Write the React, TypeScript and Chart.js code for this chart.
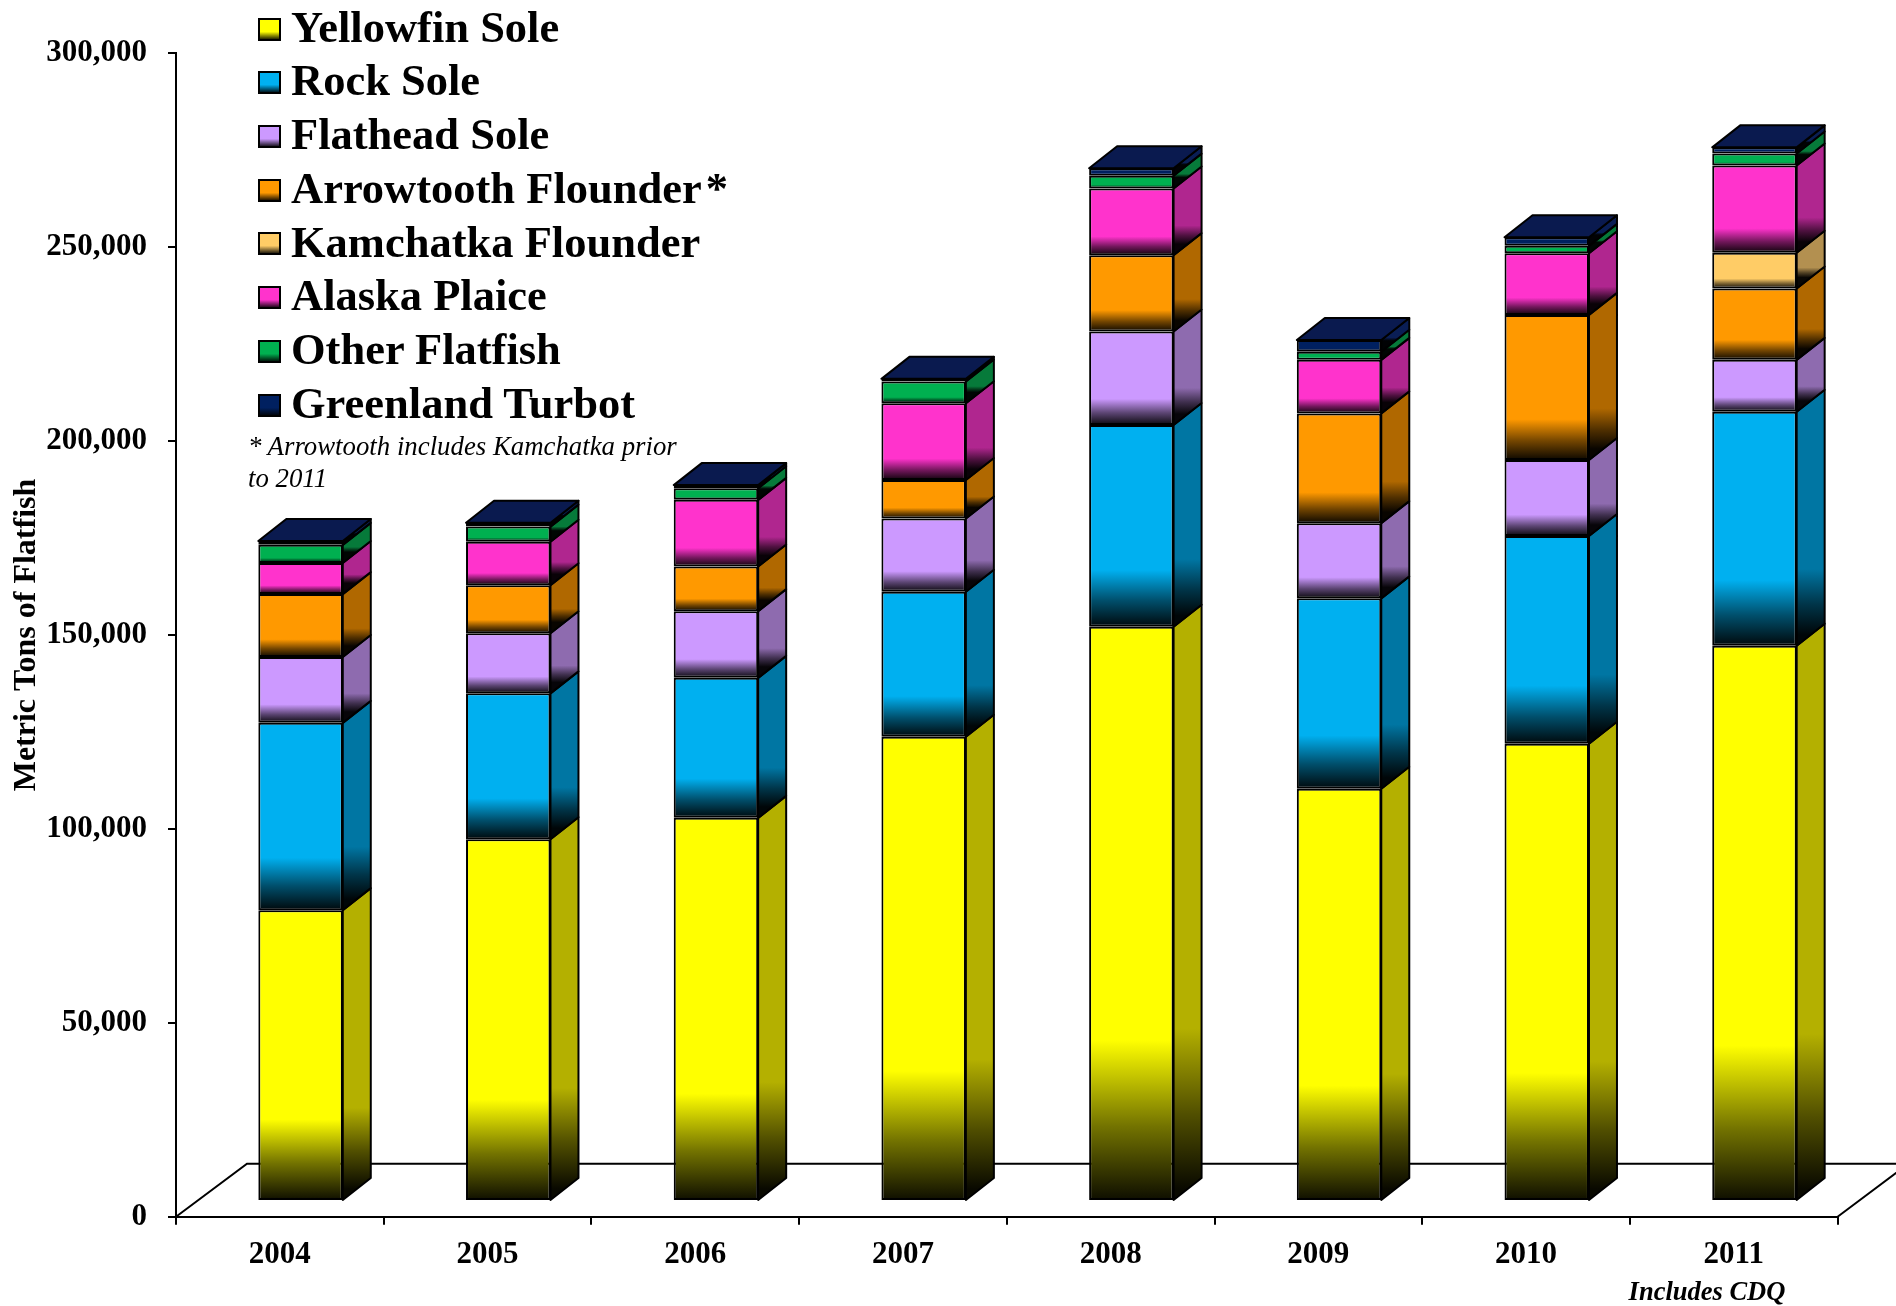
import React, { useEffect, useRef } from 'react';
import { Chart, registerables } from 'chart.js';

Chart.register(...registerables);

// ---------------- data (metric tons) ----------------
const years = ['2004', '2005', '2006', '2007', '2008', '2009', '2010', '2011'];
const yellowfinSole = [75000, 93300, 98800, 119700, 148100, 106300, 117900, 143200];
const rockSole = [48300, 37600, 36100, 37400, 52000, 49100, 53600, 60300];
const flatheadSole = [17000, 15500, 17200, 18900, 24100, 19400, 19600, 13400];
const arrowtoothFlounder = [16200, 12400, 11500, 9900, 19700, 28300, 37400, 18400];
const kamchatkaFlounder = [null, null, null, null, null, null, null, 9200];
const alaskaPlaice = [8000, 11200, 17200, 19800, 17200, 13800, 15900, 22500];
const otherFlatfish = [4700, 3900, 3000, 5600, 3300, 2100, 1900, 3100];
const greenlandTurbot = [1000, 1000, 800, 700, 1900, 3000, 2200, 1600];
const yTickValues = [0, 50000, 100000, 150000, 200000, 250000, 300000];

const seriesNames = [
  'Yellowfin Sole',
  'Rock Sole',
  'Flathead Sole',
  'Arrowtooth Flounder',
  'Kamchatka Flounder',
  'Alaska Plaice',
  'Other Flatfish',
  'Greenland Turbot',
];
const seriesData: (number | null)[][] = [
  yellowfinSole,
  rockSole,
  flatheadSole,
  arrowtoothFlounder,
  kamchatkaFlounder,
  alaskaPlaice,
  otherFlatfish,
  greenlandTurbot,
];

// ---------------- styles ----------------
const frontColors = ['#FFFF00', '#00B0F0', '#CC99FF', '#FF9900', '#FFCC66', '#FF33CC', '#00B050', '#002060'];
const sideColors = ['#B4B000', '#0076A3', '#8E6BAF', '#B06800', '#B39050', '#B0268F', '#067A3A', '#0A1E55'];
const topColor = '#0A1A4F';
const FONT = "'Liberation Serif', 'Times New Roman', serif";
const BAR_SHIFT = { x: 20.7, y: -15.7 };
const BAR_DEPTH = { x: 28, y: -22 };
const FLOOR_DEPTH = { x: 71, y: -53 };

function rgbOf(hex: string) {
  const n = parseInt(hex.slice(1), 16);
  return [(n >> 16) & 255, (n >> 8) & 255, n & 255];
}
function scaled(hex: string, f: number) {
  const [r, g, b] = rgbOf(hex);
  return `rgb(${Math.round(r * f)},${Math.round(g * f)},${Math.round(b * f)})`;
}
function addShade(g: CanvasGradient, hex: string) {
  g.addColorStop(0, hex);
  g.addColorStop(0.72, hex);
  g.addColorStop(0.87, scaled(hex, 0.45));
  g.addColorStop(1, scaled(hex, 0.05));
}
function stackRange(i: number, j: number) {
  let base = 0;
  for (let k = 0; k < i; k++) base += seriesData[k][j] ?? 0;
  return [base, base + (seriesData[i][j] ?? 0)];
}

function frontFill(c: any, i: number) {
  const color = frontColors[i];
  if (c.type !== 'data') return color;
  const chart = c.chart;
  const ys = chart.scales && chart.scales.y;
  if (!ys || !chart.chartArea) return color;
  const [b, t] = stackRange(i, c.dataIndex);
  const y0 = ys.getPixelForValue(t);
  const y1 = ys.getPixelForValue(b);
  if (!isFinite(y0) || !isFinite(y1) || y1 - y0 < 0.5) return color;
  const g = chart.ctx.createLinearGradient(0, y0, 0, y1);
  addShade(g, color);
  return g;
}

const threeD = {
  id: 'threeD',
  beforeDatasetsDraw(chart: any) {
    const { ctx, chartArea, scales } = chart;
    const y0 = scales.y.getPixelForValue(0);
    ctx.save();
    ctx.strokeStyle = '#000';
    ctx.lineWidth = 2;
    ctx.beginPath();
    ctx.moveTo(chartArea.left, y0);
    ctx.lineTo(chartArea.left + FLOOR_DEPTH.x, y0 + FLOOR_DEPTH.y);
    ctx.lineTo(chartArea.right + FLOOR_DEPTH.x, y0 + FLOOR_DEPTH.y);
    ctx.lineTo(chartArea.right, y0);
    ctx.stroke();
    ctx.restore();
    ctx.save();
    ctx.translate(BAR_SHIFT.x, BAR_SHIFT.y);
  },
  afterDatasetsDraw(chart: any) {
    const { ctx } = chart;
    const n = years.length;
    ctx.lineWidth = 2;
    ctx.lineJoin = 'round';
    ctx.strokeStyle = '#000';
    for (let j = 0; j < n; j++) {
      let topIdx = -1;
      for (let i = 0; i < seriesData.length; i++) {
        if (seriesData[i][j] == null) continue;
        const el = chart.getDatasetMeta(i).data[j];
        if (!el) continue;
        const { x, y, base, width } = el.getProps(['x', 'y', 'base', 'width'], true);
        const xr = x + width / 2;
        const g = ctx.createLinearGradient(0, y + BAR_DEPTH.y / 2, 0, base + BAR_DEPTH.y / 2);
        addShade(g, sideColors[i]);
        ctx.beginPath();
        ctx.moveTo(xr, y);
        ctx.lineTo(xr + BAR_DEPTH.x, y + BAR_DEPTH.y);
        ctx.lineTo(xr + BAR_DEPTH.x, base + BAR_DEPTH.y);
        ctx.lineTo(xr, base);
        ctx.closePath();
        ctx.fillStyle = g;
        ctx.fill();
        ctx.stroke();
        topIdx = i;
      }
      if (topIdx >= 0) {
        const el = chart.getDatasetMeta(topIdx).data[j];
        const { x, y, width } = el.getProps(['x', 'y', 'width'], true);
        const xl = x - width / 2;
        const xr = x + width / 2;
        ctx.beginPath();
        ctx.moveTo(xl, y);
        ctx.lineTo(xl + BAR_DEPTH.x, y + BAR_DEPTH.y);
        ctx.lineTo(xr + BAR_DEPTH.x, y + BAR_DEPTH.y);
        ctx.lineTo(xr, y);
        ctx.closePath();
        ctx.fillStyle = topColor;
        ctx.fill();
        ctx.stroke();
      }
    }
    ctx.restore();
  },
};

export default function App() {
  const ref = useRef<HTMLCanvasElement>(null);

  useEffect(() => {
    const canvas = ref.current;
    if (!canvas) return;
    const chart = new Chart(canvas, {
      type: 'bar',
      data: {
        labels: years,
        datasets: seriesData.map((vals, i) => ({
          label: seriesNames[i],
          data: vals,
          backgroundColor: (c: any) => frontFill(c, i),
          borderColor: '#000',
          borderWidth: 2,
          borderSkipped: false,
          barPercentage: 0.4066,
          categoryPercentage: 1,
          clip: false,
        })) as any,
      },
      options: {
        responsive: false,
        animation: false,
        devicePixelRatio: 1,
        layout: { padding: { top: 53.3, right: 58.4, bottom: 0, left: 0 } },
        plugins: { legend: { display: false }, tooltip: { enabled: false } },
        scales: {
          x: {
            stacked: true,
            grid: { display: true, drawOnChartArea: false, drawTicks: true, tickLength: 8, color: '#000', lineWidth: 2 },
            border: { display: true, color: '#000', width: 2 },
            ticks: {
              color: '#000',
              font: { family: FONT, size: 31, weight: 'bold' },
              padding: 12,
              maxRotation: 0,
              autoSkip: false,
            },
            afterFit: (s: any) => {
              s.height = 89.3;
            },
          },
          y: {
            stacked: true,
            min: 0,
            max: 300000,
            afterBuildTicks: (axis: any) => {
              axis.ticks = yTickValues.map((v) => ({ value: v }));
            },
            grid: { display: true, drawOnChartArea: false, drawTicks: true, tickLength: 8, color: '#000', lineWidth: 2 },
            border: { display: true, color: '#000', width: 2 },
            ticks: {
              color: '#000',
              font: { family: FONT, size: 31, weight: 'bold' },
              padding: 21,
              callback: (v: any) => Number(v).toLocaleString('en-US'),
            },
            title: {
              display: true,
              text: 'Metric Tons of Flatfish',
              color: '#000',
              font: { family: FONT, size: 32, weight: 'bold' },
              padding: { top: 8, bottom: 0 },
            },
            afterFit: (s: any) => {
              s.width = 176;
            },
          },
        },
      } as any,
      plugins: [threeD as any],
    });
    return () => chart.destroy();
  }, []);

  return (
    <div
      style={{
        position: 'fixed',
        left: 0,
        top: 0,
        width: 1896,
        height: 1306,
        background: '#fff',
        overflow: 'hidden',
      }}
    >
      <canvas
        ref={ref}
        width={1896}
        height={1306}
        style={{ position: 'absolute', left: 0, top: 0, width: 1896, height: 1306 }}
      />
      {seriesNames.map((name, k) => {
        const baseline = 42 + 53.7 * k;
        return (
          <React.Fragment key={name}>
            <div
              style={{
                position: 'absolute',
                left: 258,
                top: baseline - 24.4,
                width: 23,
                height: 23,
                boxSizing: 'border-box',
                border: '2px solid #000',
                background: `linear-gradient(to bottom, ${frontColors[k]} 0%, ${frontColors[k]} 62%, ${scaled(
                  frontColors[k],
                  0.15
                )} 100%)`,
              }}
            />
            <div
              style={{
                position: 'absolute',
                left: 291,
                top: baseline - 37.3,
                fontFamily: FONT,
                fontWeight: 'bold',
                fontSize: 44.5,
                lineHeight: '44.5px',
                whiteSpace: 'nowrap',
                color: '#000',
              }}
            >
              {name}
              {k === 3 && <span style={{ marginLeft: 4 }}>*</span>}
            </div>
          </React.Fragment>
        );
      })}
      <div
        style={{
          position: 'absolute',
          left: 248,
          top: 429.5,
          fontFamily: FONT,
          fontStyle: 'italic',
          fontSize: 26.8,
          lineHeight: '32px',
          whiteSpace: 'nowrap',
          color: '#000',
        }}
      >
        * Arrowtooth includes Kamchatka prior
        <br />
        to 2011
      </div>
      <div
        style={{
          position: 'absolute',
          left: 1607,
          width: 200,
          textAlign: 'center',
          top: 1277.8,
          fontFamily: FONT,
          fontStyle: 'italic',
          fontWeight: 'bold',
          fontSize: 26.5,
          lineHeight: '26.5px',
          whiteSpace: 'nowrap',
          color: '#000',
        }}
      >
        Includes CDQ
      </div>
    </div>
  );
}
